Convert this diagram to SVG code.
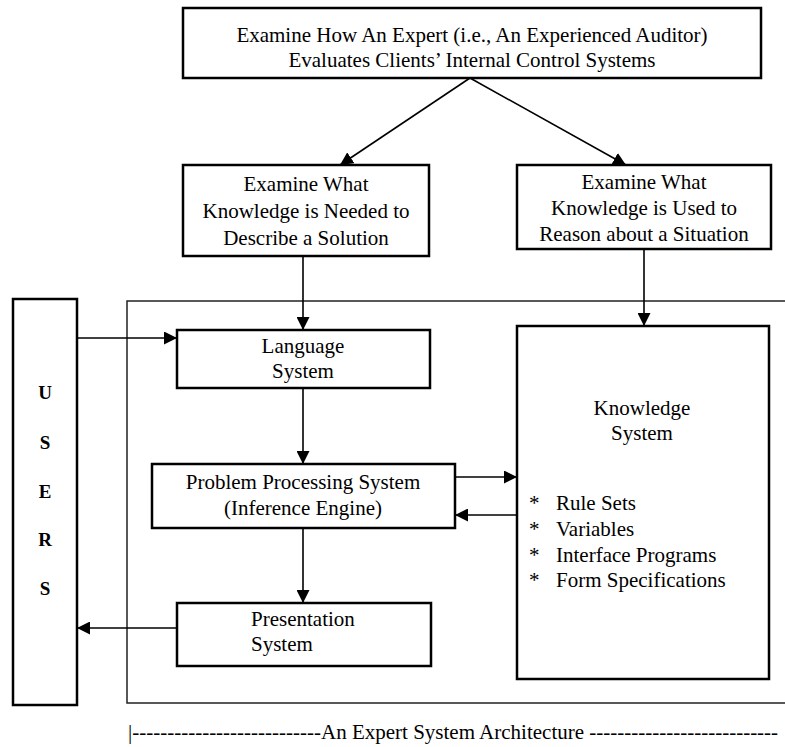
<svg xmlns="http://www.w3.org/2000/svg" width="785" height="747" viewBox="0 0 785 747">
<style>
.box{fill:#fff;stroke:#000;stroke-width:2.5}
.frame{fill:none;stroke:#222;stroke-width:1.5}
.t{font-family:"Liberation Serif","Times New Roman",serif;font-size:21px;fill:#000}
.c{text-anchor:middle}
.b{font-weight:bold;font-size:19px}
.ln{stroke:#000;stroke-width:1.6;fill:none}
</style>
<defs>
<marker id="ah" markerUnits="userSpaceOnUse" markerWidth="13" markerHeight="13" viewBox="0 0 13 13" refX="13" refY="6.5" orient="auto">
<path d="M0,0 L13,6.5 L0,13 Z" fill="#000"/>
</marker>
</defs>
<rect x="0" y="0" width="785" height="747" fill="#fff"/>
<g id="frame">
<path class="frame" d="M785,301 H127 V703 H785"/>
</g>
<g id="connectors">
<line class="ln" x1="470" y1="78" x2="340" y2="165" marker-end="url(#ah)"/>
<line class="ln" x1="470" y1="78" x2="626" y2="165" marker-end="url(#ah)"/>
<line class="ln" x1="303" y1="256" x2="303" y2="330" marker-end="url(#ah)"/>
<line class="ln" x1="644" y1="249" x2="644" y2="326" marker-end="url(#ah)"/>
<line class="ln" x1="77" y1="338" x2="177" y2="338" marker-end="url(#ah)"/>
<line class="ln" x1="303" y1="388" x2="303" y2="464" marker-end="url(#ah)"/>
<line class="ln" x1="455" y1="477" x2="517" y2="477" marker-end="url(#ah)"/>
<line class="ln" x1="517" y1="515" x2="455" y2="515" marker-end="url(#ah)"/>
<line class="ln" x1="303" y1="528" x2="303" y2="603" marker-end="url(#ah)"/>
<line class="ln" x1="177" y1="628" x2="77" y2="628" marker-end="url(#ah)"/>
</g>
<g id="top">
<rect class="box" x="183" y="8" width="578" height="70"/>
<text class="t c" x="472" y="42">Examine How An Expert (i.e., An Experienced Auditor)</text>
<text class="t c" x="472" y="67">Evaluates Clients’ Internal Control Systems</text>
</g>
<g id="needed">
<rect class="box" x="183" y="165" width="246" height="91"/>
<text class="t c" x="306" y="191">Examine What</text>
<text class="t c" x="306" y="218">Knowledge is Needed to</text>
<text class="t c" x="306" y="245">Describe a Solution</text>
</g>
<g id="used">
<rect class="box" x="517" y="165" width="254" height="84"/>
<text class="t c" x="644" y="189">Examine What</text>
<text class="t c" x="644" y="215">Knowledge is Used to</text>
<text class="t c" x="644" y="241">Reason about a Situation</text>
</g>
<g id="users">
<rect class="box" x="13" y="299" width="64" height="406"/>
<text class="t c b" x="45" y="399">U</text>
<text class="t c b" x="45" y="449">S</text>
<text class="t c b" x="45" y="498">E</text>
<text class="t c b" x="45" y="546">R</text>
<text class="t c b" x="45" y="595">S</text>
</g>
<g id="language">
<rect class="box" x="177" y="330" width="253" height="58"/>
<text class="t c" x="303" y="353">Language</text>
<text class="t c" x="303" y="378">System</text>
</g>
<g id="pps">
<rect class="box" x="152" y="464" width="303" height="64"/>
<text class="t c" x="303" y="489">Problem Processing System</text>
<text class="t c" x="303" y="515">(Inference Engine)</text>
</g>
<g id="presentation">
<rect class="box" x="177" y="603" width="254" height="63"/>
<text class="t" x="251" y="626">Presentation</text>
<text class="t" x="251" y="651">System</text>
</g>
<g id="knowledge">
<rect class="box" x="517" y="326" width="252" height="353"/>
<text class="t c" x="642" y="415">Knowledge</text>
<text class="t c" x="642" y="440">System</text>
<text class="t" x="529" y="510">*</text><text class="t" x="556" y="510">Rule Sets</text>
<text class="t" x="529" y="536">*</text><text class="t" x="556" y="536">Variables</text>
<text class="t" x="529" y="562">*</text><text class="t" x="556" y="562">Interface Programs</text>
<text class="t" x="529" y="587">*</text><text class="t" x="556" y="587">Form Specifications</text>
</g>
<g id="caption">
<text class="t" x="128" y="739">|---------------------------An Expert System Architecture ---------------------------</text>
</g>
</svg>
